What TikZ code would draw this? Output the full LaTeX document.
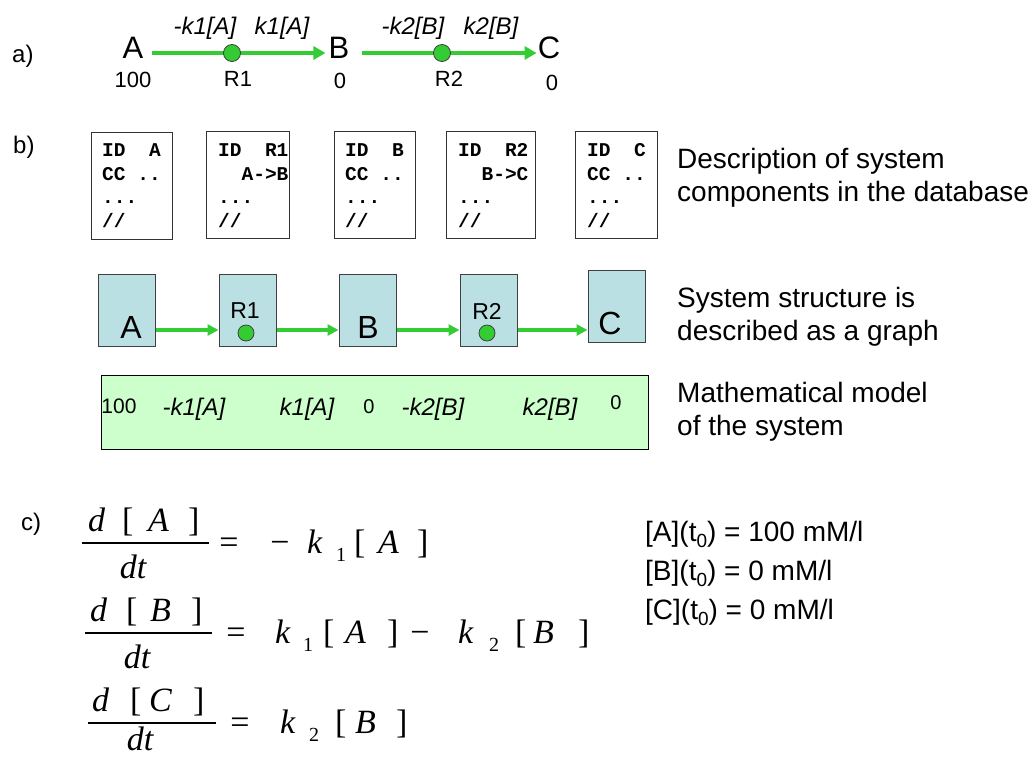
\documentclass[tikz,border=0pt]{standalone}
\usepackage{fontspec}
\setmainfont{Liberation Sans}
\newfontfamily\monof[WordSpace={1,0,0}]{Liberation Mono}
\newfontfamily\serf{Liberation Serif}
\usetikzlibrary{arrows.meta}
\newcommand\myfs[1]{\fontsize{#1}{#1}\selectfont}
\definecolor{grn}{RGB}{51,204,51}
\definecolor{lblue}{RGB}{187,224,227}
\definecolor{lgreen}{RGB}{204,255,204}
\begin{document}
\begin{tikzpicture}[x=1pt,y=-1pt,
  lab/.style={inner sep=0pt, anchor=base west, font=\myfs{24}},
  big/.style={inner sep=0pt, font=\myfs{31}},
  sm/.style={inner sep=0pt, font=\myfs{22}},
  rate/.style={inner sep=0pt, anchor=base, font=\myfs{24}\itshape},
  dot/.style={circle, fill=grn, draw=black!75, line width=0.8pt, minimum size=17pt, inner sep=0pt},
  tarrow/.style={draw=grn, line width=4pt, -{Triangle[length=12pt,width=13pt]}},
  garrow/.style={draw=grn, line width=3.5pt, -{Triangle[length=11pt,width=11pt]}},
  dbox/.style={draw=black!80, line width=1pt, fill=white, inner sep=0pt, anchor=north west, minimum height=107pt},
  mono/.style={inner sep=0pt, anchor=base west, font=\monof\bfseries\myfs{19.5}},
  desc/.style={inner sep=0pt, anchor=base west, font=\myfs{28}},
  gbox/.style={draw=black!75, line width=1pt, fill=lblue, minimum width=57pt, minimum height=72pt, inner sep=0pt},
  gl/.style={inner sep=0pt, font=\myfs{32}},
  gr/.style={inner sep=0pt, font=\myfs{23}},
  mbox/.style={draw=black, line width=1pt, fill=lgreen, minimum width=547pt, minimum height=74pt, inner sep=0pt},
  mt/.style={inner sep=0pt, font=\myfs{21}},
  mit/.style={inner sep=0pt, font=\myfs{24}\itshape},
  mi/.style={inner sep=0pt, anchor=base west, font=\serf\itshape\myfs{34}},
  mu/.style={inner sep=0pt, anchor=base west, font=\serf\myfs{34}},
  mc/.style={inner sep=0pt, anchor=base, font=\serf\myfs{34}},
  md/.style={inner sep=0pt, anchor=base, font=\serf\itshape\myfs{34}},
  ms/.style={inner sep=0pt, anchor=base west, font=\serf\myfs{20}},
  fbar/.style={line width=1.5pt}
]
\useasboundingbox (0,0) rectangle (1036,756);

% ---------------- a)
\node[lab] (la) at (12,62) {a)};
\node[big] (tA) at (133,48) {A};
\node[big] (tB) at (339,48) {B};
\node[big] (tC) at (549,48) {C};
\draw[tarrow, shorten <=8pt, shorten >=3pt] ([yshift=-5pt]tA.east) -- ([yshift=-5pt]tB.west);
\draw[tarrow, shorten <=12pt, shorten >=1pt] ([yshift=-5pt]tB.east) -- ([yshift=-5pt]tC.west);
\node[dot] (r1) at (232,53) {};
\node[dot] (r2) at (442,53) {};
\node[rate] (k1m) at (205,34) {-k1[A]};
\node[rate] (k1p) at (282,34) {k1[A]};
\node[rate] (k2m) at (413,34) {-k2[B]};
\node[rate] (k2p) at (491,34) {k2[B]};
\node[sm] (n100) at (133,80) {100};
\node[sm] (r1l) at (238,79) {R1};
\node[sm] (n0b) at (340,81) {0};
\node[sm] (r2l) at (449,79) {R2};
\node[sm] (n0c) at (552,83) {0};

% ---------------- b) database entries
\node[lab] (lb) at (13,153) {b)};
\node[dbox, minimum width=81pt] (d1) at (91,132) {};
\node[dbox, minimum width=83pt] (d2) at (206,131) {};
\node[dbox, minimum width=81pt] (d3) at (334,131) {};
\node[dbox, minimum width=89pt] (d4) at (446,131) {};
\node[dbox, minimum width=82pt] (d5) at (575,131) {};

\node[mono] (d1a) at (102,156) {ID~~A};
\node[mono] (d1b) at (102,180) {CC~..};
\node[mono] (d1c) at (102,203) {...};
\node[mono] (d1d) at (102,227) {//};

\node[mono] (d2a) at (218,156) {ID~~R1};
\node[mono] (d2b) at (218,180) {~~A->B};
\node[mono] (d2c) at (218,203) {...};
\node[mono] (d2d) at (218,227) {//};

\node[mono] (d3a) at (345,156) {ID~~B};
\node[mono] (d3b) at (345,180) {CC~..};
\node[mono] (d3c) at (345,203) {...};
\node[mono] (d3d) at (345,227) {//};

\node[mono] (d4a) at (458,156) {ID~~R2};
\node[mono] (d4b) at (458,180) {~~B->C};
\node[mono] (d4c) at (458,203) {...};
\node[mono] (d4d) at (458,227) {//};

\node[mono] (d5a) at (587,156) {ID~~C};
\node[mono] (d5b) at (587,180) {CC~..};
\node[mono] (d5c) at (587,203) {...};
\node[mono] (d5d) at (587,227) {//};

\node[desc] (ds1) at (677,168) {Description of system};
\node[desc] (ds2) at (677,201) {components in the database};

% ---------------- graph
\node[gbox] (gA) at (126.5,310) {};
\node[gbox] (gR1) at (247.5,310) {};
\node[gbox] (gB) at (367.5,310) {};
\node[gbox] (gR2) at (488.5,310) {};
\node[gbox] (gC) at (616.5,306.5) {};
\node[gl] (gAl) at (131,327) {A};
\node[gl] (gBl) at (368,327) {B};
\node[gl] (gCl) at (610,323) {C};
\node[gr] (gR1l) at (245,311) {R1};
\node[gr] (gR2l) at (487,311) {R2};
\node[dot, minimum size=16pt] (gd1) at (246,333) {};
\node[dot, minimum size=16pt] (gd2) at (487,333) {};
\draw[garrow] ([yshift=-20pt]gA.east) -- ([yshift=-20pt]gR1.west);
\draw[garrow] ([yshift=-20pt]gR1.east) -- ([yshift=-20pt]gB.west);
\draw[garrow] ([yshift=-20pt]gB.east) -- ([yshift=-20pt]gR2.west);
\draw[garrow] ([yshift=-20pt]gR2.east) -- ([yshift=-23.5pt]gC.west);

\node[desc] (ss1) at (677,307) {System structure is};
\node[desc] (ss2) at (677,340) {described as a graph};

% ---------------- math model box
\node[mbox] (mm) at (374.5,412) {};
\node[mt] (m1) at (119,406) {100};
\node[mit] (m2) at (194,409) {-k1[A]};
\node[mit] (m3) at (307,409) {k1[A]};
\node[mt, font=\myfs{20}] (m4) at (369,407) {0};
\node[mit] (m5) at (433,409) {-k2[B]};
\node[mit] (m6) at (550,409) {k2[B]};
\node[mt, font=\myfs{20}] (m7) at (616,403) {0};

\node[desc] (mo1) at (677,402) {Mathematical model};
\node[desc] (mo2) at (677,435) {of the system};

% ---------------- c) equations
\node[lab] (lc) at (21,530) {c)};

% equation 1 (bar 543)
\node[mi] (e1n1) at (88,531) {d};
\node[mu] (e1n2) at (122,531) {[};
\node[mi] (e1n3) at (148,531) {A};
\node[mu] (e1n4) at (188,531) {]};
\draw[fbar] (82,543) -- (209,543);
\node[md] (e1d) at (133,578) {dt};
\node[mc] (e1eq) at (229,553) {=};
\node[mc] (e1mi) at (280,553) {−};
\node[mi] (e1k) at (307,553) {k};
\node[ms] (e1s) at (336,561) {1};
\node[mu] (e1b1) at (354,553) {[};
\node[mi] (e1A) at (378,553) {A};
\node[mu] (e1b2) at (417,553) {]};

% equation 2 (bar 633)
\node[mi] (e2n1) at (90,621) {d};
\node[mu] (e2n2) at (126,621) {[};
\node[mi] (e2n3) at (150,621) {B};
\node[mu] (e2n4) at (191,621) {]};
\draw[fbar] (85,633) -- (212,633);
\node[md] (e2d) at (137,668) {dt};
\node[mc] (e2eq) at (236,643) {=};
\node[mi] (e2k1) at (275,643) {k};
\node[ms] (e2s1) at (303,651) {1};
\node[mu] (e2b1) at (323,643) {[};
\node[mi] (e2A) at (345,643) {A};
\node[mu] (e2b2) at (387,643) {]};
\node[mc] (e2mi) at (420,643) {−};
\node[mi] (e2k2) at (458,643) {k};
\node[ms] (e2s2) at (489,651) {2};
\node[mu] (e2b3) at (515,643) {[};
\node[mi] (e2B) at (533,643) {B};
\node[mu] (e2b4) at (578,643) {]};

% equation 3 (bar 723)
\node[mi] (e3n1) at (92,711) {d};
\node[mu] (e3n2) at (130,711) {[};
\node[mi] (e3n3) at (149,711) {C};
\node[mu] (e3n4) at (193,711) {]};
\draw[fbar] (88,723) -- (216,723);
\node[md] (e3d) at (140,750) {dt};
\node[mc] (e3eq) at (240,733) {=};
\node[mi] (e3k) at (280,733) {k};
\node[ms] (e3s) at (309,741) {2};
\node[mu] (e3b1) at (335,733) {[};
\node[mi] (e3B) at (355,733) {B};
\node[mu] (e3b2) at (396,733) {]};

% initial conditions
\node[desc] (ic1) at (645,541) {[A](t\raisebox{-6pt}{\myfs{19}0}) = 100 mM/l};
\node[desc] (ic2) at (645,580) {[B](t\raisebox{-6pt}{\myfs{19}0}) = 0 mM/l};
\node[desc] (ic3) at (645,619) {[C](t\raisebox{-6pt}{\myfs{19}0}) = 0 mM/l};
\end{tikzpicture}
\end{document}
